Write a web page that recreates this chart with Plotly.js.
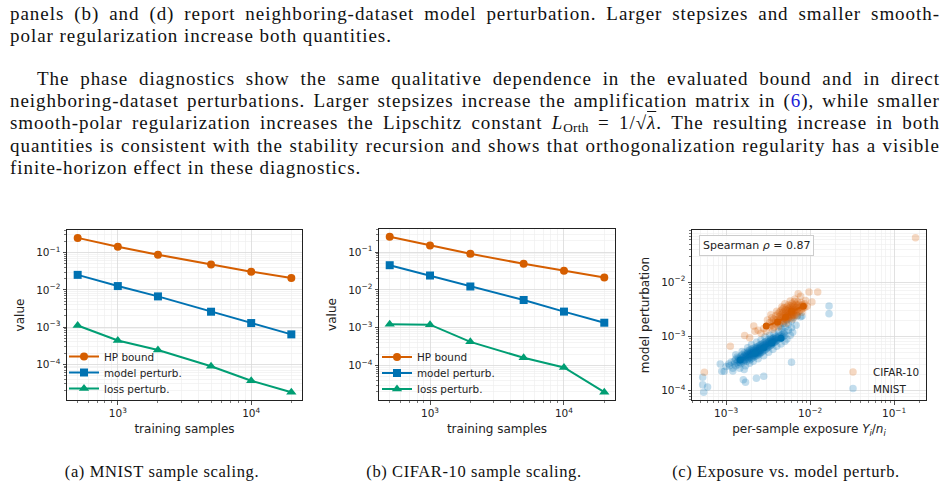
<!DOCTYPE html>
<html>
<head>
<meta charset="utf-8">
<script src="https://cdn.plot.ly/plotly-3.0.1.min.js"></script>
<style>
  html, body { margin:0; padding:0; background:#fff; }
  body { width:948px; height:488px; position:relative; overflow:hidden; }
  #plot { position:absolute; left:0; top:0; width:948px; height:488px; }
  .ln { position:absolute; font-family:"Liberation Serif", serif; font-size:19px; line-height:22px;
        color:#111; letter-spacing:0.95px; white-space:nowrap; z-index:5; }
  .j { display:flex; justify-content:space-between; }
  .ln sub { font-size:70%; line-height:0; vertical-align:-0.25em; letter-spacing:0.3px; }
  .ln em { font-style:normal; color:#2020d8; }
  ov { text-decoration:overline; font-style:italic; }
  .cap { position:absolute; font-family:"Liberation Serif", serif; font-size:16.5px; line-height:20px;
         color:#111; letter-spacing:0.6px; white-space:nowrap; transform:translateX(-50%); z-index:5; }
</style>
</head>
<body>
<div id="plot"></div>
<div id="text"></div>
<script>
// ---------------- data: panels (a) and (b) ----------------
const trainingSamples = [500, 1000, 2000, 5000, 10000, 20000];
const mnistHPBound    = [0.25, 0.145, 0.0885, 0.048, 0.031, 0.021];
const mnistModelPert  = [0.0254, 0.0127, 0.0067, 0.0026, 0.00129, 0.00064];
const mnistLossPert   = [0.00111, 0.00044, 0.000244, 0.0000891, 0.0000363, 0.0000178];
const cifarHPBound    = [0.255, 0.15, 0.09, 0.049, 0.032, 0.0213];
const cifarModelPert  = [0.045, 0.024, 0.0123, 0.0054, 0.00266, 0.00135];
const cifarLossPert   = [0.00123, 0.0012, 0.00042, 0.000159, 0.0000885, 0.0000195];
const seriesNames = ['HP bound', 'model perturb.', 'loss perturb.'];

// ---------------- data: panel (c)  [exposure, model perturbation] ----------------
const mnistPoints = [
 [1.25e-3,3.1e-4],[1.25e-3,3.5e-4],[1.3e-3,2.9e-4],[1.3e-3,3.8e-4],[1.35e-3,3.3e-4],[1.35e-3,4.2e-4],
 [1.4e-3,3.0e-4],[1.4e-3,3.6e-4],[1.4e-3,4.0e-4],[1.45e-3,3.4e-4],[1.45e-3,3.9e-4],
 [1.5e-3,3.2e-4],[1.5e-3,3.7e-4],[1.5e-3,4.3e-4],[1.55e-3,3.5e-4],[1.55e-3,4.0e-4],[1.55e-3,4.6e-4],
 [1.6e-3,3.3e-4],[1.6e-3,3.8e-4],[1.6e-3,4.2e-4],[1.65e-3,3.6e-4],[1.65e-3,4.4e-4],[1.65e-3,5.0e-4],
 [1.7e-3,3.9e-4],[1.7e-3,4.2e-4],[1.7e-3,4.7e-4],[1.75e-3,3.5e-4],[1.75e-3,4.1e-4],[1.75e-3,4.5e-4],
 [1.8e-3,3.8e-4],[1.8e-3,4.3e-4],[1.8e-3,4.9e-4],[1.8e-3,5.4e-4],[1.85e-3,4.0e-4],[1.85e-3,4.6e-4],[1.85e-3,5.1e-4],
 [1.9e-3,3.7e-4],[1.9e-3,4.4e-4],[1.9e-3,4.8e-4],[1.9e-3,5.6e-4],[1.95e-3,4.2e-4],[1.95e-3,4.7e-4],[1.95e-3,5.2e-4],
 [2.0e-3,3.9e-4],[2.0e-3,4.5e-4],[2.0e-3,5.0e-4],[2.0e-3,5.8e-4],[2.05e-3,4.3e-4],[2.05e-3,4.9e-4],[2.05e-3,5.4e-4],
 [2.1e-3,4.1e-4],[2.1e-3,4.7e-4],[2.1e-3,5.2e-4],[2.1e-3,6.0e-4],[2.15e-3,4.5e-4],[2.15e-3,5.0e-4],[2.15e-3,5.6e-4],
 [2.2e-3,4.3e-4],[2.2e-3,4.9e-4],[2.2e-3,5.4e-4],[2.2e-3,6.2e-4],[2.25e-3,4.7e-4],[2.25e-3,5.2e-4],[2.25e-3,5.8e-4],
 [2.3e-3,4.4e-4],[2.3e-3,5.0e-4],[2.3e-3,5.5e-4],[2.3e-3,6.4e-4],[2.35e-3,4.8e-4],[2.35e-3,5.3e-4],[2.35e-3,6.0e-4],
 [2.4e-3,4.6e-4],[2.4e-3,5.2e-4],[2.4e-3,5.7e-4],[2.4e-3,6.6e-4],[2.45e-3,5.0e-4],[2.45e-3,5.5e-4],[2.45e-3,6.2e-4],
 [2.5e-3,4.8e-4],[2.5e-3,5.4e-4],[2.5e-3,6.0e-4],[2.5e-3,6.9e-4],[2.55e-3,5.1e-4],[2.55e-3,5.7e-4],[2.55e-3,6.4e-4],
 [2.6e-3,5.0e-4],[2.6e-3,5.6e-4],[2.6e-3,6.1e-4],[2.6e-3,7.1e-4],[2.7e-3,5.3e-4],[2.7e-3,5.9e-4],[2.7e-3,6.5e-4],[2.7e-3,7.3e-4],
 [2.8e-3,5.5e-4],[2.8e-3,6.1e-4],[2.8e-3,6.8e-4],[2.8e-3,7.6e-4],[2.9e-3,5.7e-4],[2.9e-3,6.4e-4],[2.9e-3,7.0e-4],[2.9e-3,7.9e-4],
 [3.0e-3,5.9e-4],[3.0e-3,6.6e-4],[3.0e-3,7.3e-4],[3.0e-3,8.2e-4],[3.1e-3,6.2e-4],[3.1e-3,6.9e-4],[3.1e-3,7.6e-4],
 [3.2e-3,6.4e-4],[3.2e-3,7.1e-4],[3.2e-3,7.9e-4],[3.2e-3,8.7e-4],[3.3e-3,6.7e-4],[3.3e-3,7.4e-4],[3.3e-3,8.2e-4],
 [3.4e-3,6.9e-4],[3.4e-3,7.7e-4],[3.4e-3,8.5e-4],[3.4e-3,9.3e-4],[3.5e-3,7.2e-4],[3.5e-3,8.0e-4],[3.5e-3,8.8e-4],
 [3.6e-3,7.4e-4],[3.6e-3,8.2e-4],[3.6e-3,9.2e-4],[3.7e-3,7.7e-4],[3.7e-3,8.5e-4],[3.7e-3,9.5e-4],
 [3.8e-3,7.9e-4],[3.8e-3,8.8e-4],[3.9e-3,8.2e-4],[3.9e-3,9.1e-4],[3.9e-3,1.0e-3],[4.0e-3,8.5e-4],[4.0e-3,9.4e-4],
 [4.2e-3,8.8e-4],[4.2e-3,9.7e-4],[4.2e-3,1.05e-3],[4.4e-3,9.2e-4],[4.4e-3,1.02e-3],[4.6e-3,9.6e-4],[4.6e-3,1.08e-3],
 [4.8e-3,1.0e-3],[4.8e-3,1.15e-3],[5.0e-3,1.06e-3],[5.0e-3,1.22e-3],
 [1.1e-3,2.9e-4],[1.15e-3,3.4e-4],[1.2e-3,2.6e-4],[1.3e-3,4.6e-4],[1.45e-3,2.6e-4],[1.55e-3,5.3e-4],[1.7e-3,2.9e-4],
 [1.8e-3,6.2e-4],[1.9e-3,3.2e-4],[2.0e-3,7.0e-4],[2.1e-3,3.5e-4],[2.3e-3,7.8e-4],[2.4e-3,3.9e-4],[2.6e-3,8.6e-4],
 [2.8e-3,4.4e-4],[2.9e-3,9.8e-4],[3.2e-3,5.1e-4],[3.3e-3,1.05e-3],[3.6e-3,5.8e-4],[3.7e-3,1.15e-3],[4.0e-3,6.6e-4],
 [4.2e-3,1.25e-3],[4.5e-3,7.3e-4],[4.6e-3,1.38e-3],[5.0e-3,8.2e-4],[5.0e-3,1.5e-3],[5.3e-3,9.0e-4],[5.5e-3,1.3e-3],
 [5.5e-3,1.7e-3],[5.8e-3,1.05e-3],[6.0e-3,1.45e-3],[6.0e-3,1.95e-3],[6.3e-3,2.2e-3],[6.2e-3,1.2e-3],[6.8e-3,1.6e-3],
 [7.0e-3,2.4e-3],[7.7e-3,2.3e-3],[8.0e-3,2.37e-3],[5.2e-3,2.0e-3],[4.8e-3,1.75e-3],[4.4e-3,1.55e-3],
 [5.25e-4,1.78e-4],[5.25e-4,1.29e-4],[5.4e-4,9.4e-5],[6.0e-4,1.17e-4],[8.9e-4,2.29e-4],[9.5e-4,2.29e-4],
 [8.5e-4,3.1e-4],[1.07e-3,3.1e-4],[1.0e-3,2.8e-4],[1.64e-3,2.46e-4],[1.6e-3,1.6e-4],[1.7e-3,1.44e-4],
 [2.29e-3,1.7e-4],[2.8e-3,1.85e-4],[6.0e-3,3.35e-4],[1.68e-2,3.62e-3],[1.68e-2,2.62e-3],[1.2e-3,2.3e-4]
];
const cifarPoints = [
 [3.3e-3,1.5e-3],[3.3e-3,1.8e-3],[3.5e-3,1.6e-3],[3.5e-3,1.9e-3],[3.5e-3,2.2e-3],
 [3.7e-3,1.5e-3],[3.7e-3,1.8e-3],[3.7e-3,2.1e-3],[3.9e-3,1.7e-3],[3.9e-3,2.0e-3],[3.9e-3,2.4e-3],
 [4.1e-3,1.8e-3],[4.1e-3,2.1e-3],[4.1e-3,2.6e-3],[4.3e-3,1.7e-3],[4.3e-3,2.0e-3],[4.3e-3,2.3e-3],[4.3e-3,2.8e-3],
 [4.5e-3,1.9e-3],[4.5e-3,2.2e-3],[4.5e-3,2.5e-3],[4.5e-3,3.0e-3],[4.7e-3,2.0e-3],[4.7e-3,2.3e-3],[4.7e-3,2.7e-3],[4.7e-3,3.2e-3],
 [4.9e-3,1.9e-3],[4.9e-3,2.2e-3],[4.9e-3,2.5e-3],[4.9e-3,2.9e-3],[4.9e-3,3.4e-3],
 [5.1e-3,2.1e-3],[5.1e-3,2.4e-3],[5.1e-3,2.7e-3],[5.1e-3,3.1e-3],
 [5.3e-3,2.0e-3],[5.3e-3,2.3e-3],[5.3e-3,2.6e-3],[5.3e-3,3.0e-3],[5.3e-3,3.5e-3],
 [5.5e-3,2.2e-3],[5.5e-3,2.5e-3],[5.5e-3,2.8e-3],[5.5e-3,3.2e-3],[5.5e-3,3.8e-3],
 [5.7e-3,2.3e-3],[5.7e-3,2.6e-3],[5.7e-3,3.0e-3],[5.7e-3,3.4e-3],
 [5.9e-3,2.2e-3],[5.9e-3,2.5e-3],[5.9e-3,2.8e-3],[5.9e-3,3.2e-3],[5.9e-3,3.7e-3],
 [6.1e-3,2.4e-3],[6.1e-3,2.7e-3],[6.1e-3,3.0e-3],[6.1e-3,3.5e-3],[6.1e-3,4.1e-3],
 [6.3e-3,2.5e-3],[6.3e-3,2.9e-3],[6.3e-3,3.3e-3],[6.3e-3,3.8e-3],
 [6.5e-3,2.4e-3],[6.5e-3,2.8e-3],[6.5e-3,3.1e-3],[6.5e-3,3.6e-3],[6.5e-3,4.4e-3],
 [6.8e-3,2.6e-3],[6.8e-3,3.0e-3],[6.8e-3,3.4e-3],[6.8e-3,3.9e-3],
 [7.1e-3,2.8e-3],[7.1e-3,3.2e-3],[7.1e-3,3.7e-3],[7.1e-3,4.3e-3],
 [7.4e-3,2.9e-3],[7.4e-3,3.4e-3],[7.4e-3,3.9e-3],[7.8e-3,3.1e-3],[7.8e-3,3.6e-3],[7.8e-3,4.2e-3],
 [8.2e-3,3.3e-3],[8.2e-3,3.8e-3],[8.6e-3,3.4e-3],[8.6e-3,4.0e-3],
 [2.8e-3,1.4e-3],[3.0e-3,1.25e-3],[2.6e-3,1.15e-3],[2.4e-3,1.3e-3],[2.13e-3,1.55e-3],[2.2e-3,1.25e-3],
 [3.1e-3,2.0e-3],[3.4e-3,2.5e-3],[3.6e-3,1.35e-3],[4.0e-3,2.9e-3],[4.2e-3,1.5e-3],[4.6e-3,3.5e-3],
 [5.0e-3,4.0e-3],[5.2e-3,1.75e-3],[5.8e-3,4.5e-3],[6.2e-3,2.1e-3],[6.6e-3,4.9e-3],[7.0e-3,2.4e-3],
 [7.2e-3,6.1e-3],[7.7e-3,5.5e-3],[8.0e-3,2.8e-3],[8.8e-3,4.6e-3],[9.2e-3,3.6e-3],[9.7e-3,6.6e-3],
 [1.05e-2,4.3e-3],[1.23e-2,6.6e-3],[1.66e-3,1.04e-3],[1.9e-3,9.5e-4],[1.12e-3,6.6e-4],[5.5e-4,2.2e-4],
 [1.8e-1,6.6e-2]
];
const mnistBinExposure = [1.47e-3, 2.2e-3, 2.8e-3, 3.5e-3, 4.5e-3];
const mnistBinPerturb  = [3.7e-4, 4.9e-4, 6.2e-4, 7.6e-4, 9.3e-4];
const cifarBinExposure = [3.0e-3, 4.1e-3, 5.1e-3, 6.0e-3, 8.3e-3];
const cifarBinPerturb  = [1.55e-3, 1.85e-3, 2.25e-3, 2.9e-3, 3.6e-3];
const spearmanRho = '0.87';

// ---------------- styling ----------------
const ORANGE = '#D55E00', BLUE = '#0072B2', GREEN = '#009E73';
const W = 948, H = 488;
const dx = (a, b) => [a / W, b / W];
const dy = (top, bottom) => [1 - bottom / H, 1 - top / H];
const TXT = '#222';
const SANS = 'DejaVu Sans, sans-serif';

function minorVals(p0, p1) {
  const v = [];
  for (let p = p0; p <= p1; p++) for (let m = 2; m <= 9; m++) v.push(m * Math.pow(10, p));
  return v;
}
function sup(p) { return '10<sup>' + (p < 0 ? '\u2212' + (-p) : p) + '</sup>'; }

function logAxis(range, pows, mp0, mp1, domain, anchor, title, standoff) {
  return {
    type: 'log', range: range, domain: domain, anchor: anchor,
    tickmode: 'array', tickvals: pows.map(p => Math.pow(10, p)), ticktext: pows.map(sup),
    ticks: 'outside', ticklen: 3.5, tickwidth: 0.8, tickcolor: TXT,
    showline: true, mirror: true, linecolor: TXT, linewidth: 1,
    showgrid: true, gridcolor: '#d9d9d9', gridwidth: 0.8, zeroline: false,
    tickfont: { family: SANS, size: 10.5, color: TXT },
    minor: { tickmode: 'array', tickvals: minorVals(mp0, mp1), ticks: 'outside', ticklen: 2,
             tickwidth: 0.6, tickcolor: TXT, showgrid: true, gridcolor: '#ececec', gridwidth: 0.6 },
    title: { text: title, font: { family: SANS, size: 12, color: TXT }, standoff: standoff },
    automargin: false, fixedrange: true
  };
}

function lineTrace(y, name, symbol, color, size, xa, ya, leg) {
  return {
    x: trainingSamples, y: y, name: name, type: 'scatter', mode: 'lines+markers',
    line: { color: color, width: 2 }, marker: { symbol: symbol, size: size, color: color },
    xaxis: xa, yaxis: ya, legend: leg, showlegend: true
  };
}

const traces = [
  lineTrace(mnistHPBound,   seriesNames[0], 'circle',      ORANGE, 8, 'x',  'y',  'legend'),
  lineTrace(mnistModelPert, seriesNames[1], 'square',      BLUE,   8, 'x',  'y',  'legend2'),
  lineTrace(mnistLossPert,  seriesNames[2], 'triangle-up', GREEN,  9, 'x',  'y',  'legend3'),
  lineTrace(cifarHPBound,   seriesNames[0], 'circle',      ORANGE, 8, 'x2', 'y2', 'legend4'),
  lineTrace(cifarModelPert, seriesNames[1], 'square',      BLUE,   8, 'x2', 'y2', 'legend5'),
  lineTrace(cifarLossPert,  seriesNames[2], 'triangle-up', GREEN,  9, 'x2', 'y2', 'legend6'),
  { x: mnistPoints.map(p => p[0]), y: mnistPoints.map(p => p[1]), name: 'MNIST', type: 'scatter', mode: 'markers',
    marker: { size: 7.5, color: 'rgba(0,114,178,0.24)', line: { width: 0 } },
    xaxis: 'x3', yaxis: 'y3', legend: 'legend8' },
  { x: cifarPoints.map(p => p[0]), y: cifarPoints.map(p => p[1]), name: 'CIFAR-10', type: 'scatter', mode: 'markers',
    marker: { size: 7.5, color: 'rgba(213,94,0,0.24)', line: { width: 0 } },
    xaxis: 'x3', yaxis: 'y3', legend: 'legend7' },
  { x: mnistBinExposure, y: mnistBinPerturb, type: 'scatter', mode: 'lines+markers', showlegend: false,
    line: { color: BLUE, width: 2 }, marker: { size: 7, color: BLUE }, xaxis: 'x3', yaxis: 'y3' },
  { x: cifarBinExposure, y: cifarBinPerturb, type: 'scatter', mode: 'lines+markers', showlegend: false,
    line: { color: ORANGE, width: 2 }, marker: { size: 7, color: ORANGE }, xaxis: 'x3', yaxis: 'y3' }
];

function leg(left, cy) {
  return { bgcolor: 'rgba(0,0,0,0)', borderwidth: 0, font: { family: SANS, size: 10.4, color: TXT },
           itemwidth: 30, tracegroupgap: 0, xanchor: 'left', yanchor: 'middle',
           x: left / W, y: 1 - cy / H };
}

const layout = {
  width: W, height: H, margin: { l: 0, r: 0, t: 0, b: 0 },
  paper_bgcolor: 'rgba(0,0,0,0)', plot_bgcolor: '#fff',
  xaxis:  logAxis([2.619, 4.381], [3, 4], 2, 4, dx(67, 302), 'y', 'training samples', 6),
  yaxis:  logAxis([-4.957, -0.39], [-4, -3, -2, -1], -5, -1, dy(230, 400), 'x', 'value', 8),
  xaxis2: logAxis([2.619, 4.381], [3, 4], 2, 4, dx(379, 615), 'y2', 'training samples', 6),
  yaxis2: logAxis([-4.916, -0.388], [-4, -3, -2, -1], -5, -1, dy(229, 400), 'x2', 'value', 8),
  xaxis3: logAxis([-3.407, -0.62], [-3, -2, -1], -4, -1, dx(692, 926), 'y3',
                  'per-sample exposure <i>Y<sub>i</sub></i>/<i>n<sub>i</sub></i>', 6),
  yaxis3: logAxis([-4.17, -1.04], [-4, -3, -2], -5, -2, dy(230, 400), 'x3', 'model perturbation', 8),
  legend:  leg(64, 356.5),
  legend2: leg(64, 372.5),
  legend3: leg(64, 388.5),
  legend4: leg(377, 357),
  legend5: leg(377, 373),
  legend6: leg(377, 389),
  legend7: leg(833, 372),
  legend8: leg(833, 388.5),
  annotations: [{
    xref: 'paper', yref: 'paper', x: 699 / W, y: 1 - 235 / H, xanchor: 'left', yanchor: 'top',
    text: 'Spearman <i>\u03C1</i> = ' + spearmanRho, showarrow: false,
    font: { family: SANS, size: 11, color: TXT }, bgcolor: 'rgba(255,255,255,0.85)',
    bordercolor: '#cccccc', borderwidth: 1, borderpad: 3
  }],
  showlegend: true
};

Plotly.newPlot('plot', traces, layout, { displayModeBar: false, staticPlot: true });

// ---------------- body text and captions ----------------
const bodyLines = [
  { top: 3,   left: 10, width: 930, just: true,  text: 'panels (b) and (d) report neighboring-dataset model perturbation. Larger stepsizes and smaller smooth-' },
  { top: 25,  left: 10, width: 930, just: false, text: 'polar regularization increase both quantities.' },
  { top: 68,  left: 37, width: 903, just: true,  text: 'The phase diagnostics show the same qualitative dependence in the evaluated bound and in direct' },
  { top: 90,  left: 10, width: 930, just: true,  text: 'neighboring-dataset perturbations. Larger stepsizes increase the amplification matrix in (<em>6</em>), while smaller' },
  { top: 112, left: 10, width: 930, just: true,  text: 'smooth-polar regularization increases the Lipschitz constant <i>L</i><sub>Orth</sub> = 1/\u221A<ov>\u03BB</ov>. The resulting increase in both' },
  { top: 135, left: 10, width: 930, just: true,  text: 'quantities is consistent with the stability recursion and shows that orthogonalization regularity has a visible' },
  { top: 157, left: 10, width: 930, just: false, text: 'finite-horizon effect in these diagnostics.' }
];
const captions = [
  { cx: 162, text: '(a) MNIST sample scaling.' },
  { cx: 474, text: '(b) CIFAR-10 sample scaling.' },
  { cx: 786, text: '(c) Exposure vs. model perturb.' }
];
const holder = document.getElementById('text');
bodyLines.forEach(l => {
  const d = document.createElement('div');
  d.className = 'ln' + (l.just ? ' j' : '');
  d.style.top = l.top + 'px'; d.style.left = l.left + 'px'; d.style.width = l.width + 'px';
  if (l.just) {
    l.text.split(' ').forEach(w => { const s = document.createElement('span'); s.innerHTML = w; d.appendChild(s); });
  } else {
    d.innerHTML = l.text;
  }
  holder.appendChild(d);
});
captions.forEach(c => {
  const d = document.createElement('div');
  d.className = 'cap'; d.style.left = c.cx + 'px'; d.style.top = '462px';
  d.textContent = c.text;
  holder.appendChild(d);
});
</script>
</body>
</html>
